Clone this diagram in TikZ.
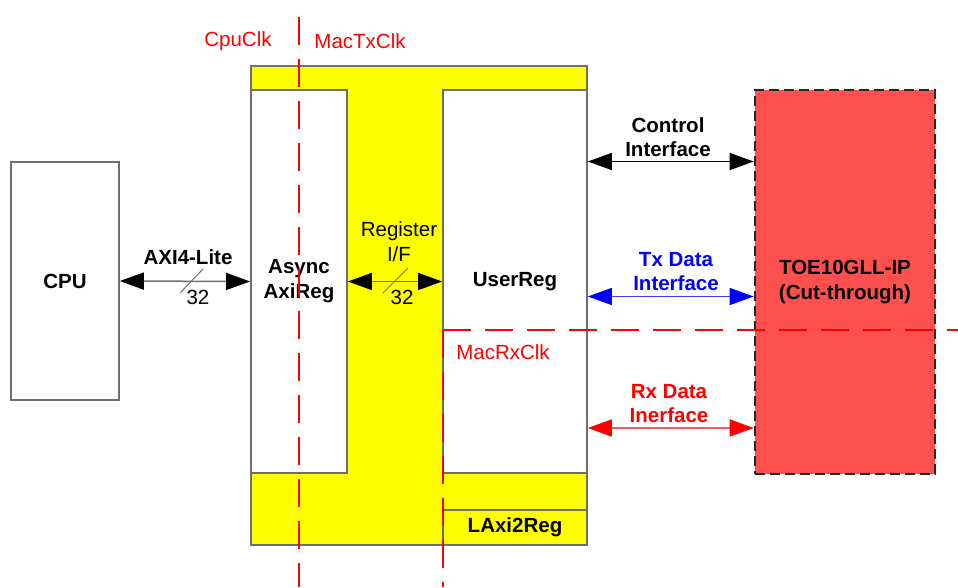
\documentclass[tikz,border=0pt]{standalone}
\usepackage{fontspec}
\setmainfont{Liberation Sans}
\usetikzlibrary{arrows.meta}
\definecolor{boxgray}{HTML}{6E6E6E}
\definecolor{toered}{HTML}{FF5050}
\definecolor{toeedge}{HTML}{262626}
\definecolor{rxline}{HTML}{FF5A5A}
\definecolor{txline}{HTML}{3C3CFF}
\definecolor{ylw}{HTML}{FFFF00}
\tikzset{
  every node/.style={font=\fontsize{20.5}{25}\selectfont, inner sep=0pt},
  blk/.style={draw=boxgray, line width=1.6pt, fill=white, align=center, font=\fontsize{20.5}{25}\selectfont\bfseries},
  clk/.style={draw=red, line width=1.6pt, dash pattern=on 28pt off 14pt},
  clklbl/.style={text=red},
  bus/.style 2 args={line width=1.5pt, draw=#1,
    {Triangle[length=24pt,width=17pt,color=#2]}-{Triangle[length=24pt,width=17pt,color=#2]}},
  slash/.style={draw=boxgray, line width=1pt},
  lbl/.style={align=center, font=\fontsize{20.5}{24}\selectfont\bfseries},
}
\begin{document}
\begin{tikzpicture}[x=1pt,y=-1pt]
\useasboundingbox (0,0) rectangle (958,587);
% CPU
\node[blk, minimum width=108pt, minimum height=238pt] (cpu) at (65,281) {CPU};
% LAxi2Reg outer
\node[blk, fill=ylw, minimum width=336pt, minimum height=479pt] (lax) at (419,305.5) {};
\node[blk, minimum width=96pt, minimum height=383pt] (async) at (299,281.5) {Async\\AxiReg};
\node[blk, minimum width=144pt, minimum height=383pt] (ureg) at (515,281.5) {UserReg};
\node[blk, fill=ylw, minimum width=144pt, minimum height=35pt] (laxlbl) at (515,527.5) {LAxi2Reg};
% TOE
\node[blk, fill=toered, draw=toeedge, line width=2.6pt, dash pattern=on 10pt off 5pt, minimum width=180pt, minimum height=384pt] (toe) at (845,282) {TOE10GLL-IP\\(Cut-through)};
% clock domain lines
\coordinate (c1t) at (299,17);
\coordinate (c1b) at (299,587);
\draw[clk] (c1t) -- (c1b);
\coordinate (c2r) at (958,330);
\coordinate (c2c) at (443,330);
\coordinate (c2b) at (443,587);
\draw[clk] (c2c) -- (c2r);
\draw[clk] (c2c) -- (c2b);
\node[clklbl] (cpuclk) at (238,41) {CpuClk};
\node[clklbl] (mactx) at (360,41) {MacTxClk};
\node[clklbl] (macrx) at (503,352) {MacRxClk};
% AXI4-Lite bus
\draw[bus={boxgray}{black}] (cpu.east) -- (async.west);
\node[lbl] (axil) at (188,257) {AXI4-Lite};
\coordinate (s1a) at (180,293);
\coordinate (s1b) at (203,269);
\draw[slash] (s1a) -- (s1b);
\node (n32a) at (198,297) {32};
% Register I/F bus
\draw[bus={boxgray}{black}] (async.east) -- (ureg.west);
\node[align=center, font=\fontsize{20.5}{25}\selectfont] (regif) at (399,242) {Register\\I/F};
\coordinate (s2a) at (383,293);
\coordinate (s2b) at (408,268);
\draw[slash] (s2a) -- (s2b);
\node (n32b) at (402,297) {32};
% Control
\coordinate (cy) at (0,161.5);
\draw[bus={black}{black}] (ureg.east |- cy) -- (toe.west |- cy);
\node[lbl] (ctrl) at (668,137) {Control\\Interface};
% Tx
\coordinate (ty) at (0,296.5);
\draw[bus={txline}{blue}] (ureg.east |- ty) -- (toe.west |- ty);
\node[lbl, text=blue] (tx) at (676,272) {Tx Data\\Interface};
% Rx
\coordinate (ry) at (0,428);
\draw[bus={rxline}{red}] (ureg.east |- ry) -- (toe.west |- ry);
\node[lbl, text=red] (rx) at (669,403.5) {Rx Data\\Inerface};
\end{tikzpicture}
\end{document}
